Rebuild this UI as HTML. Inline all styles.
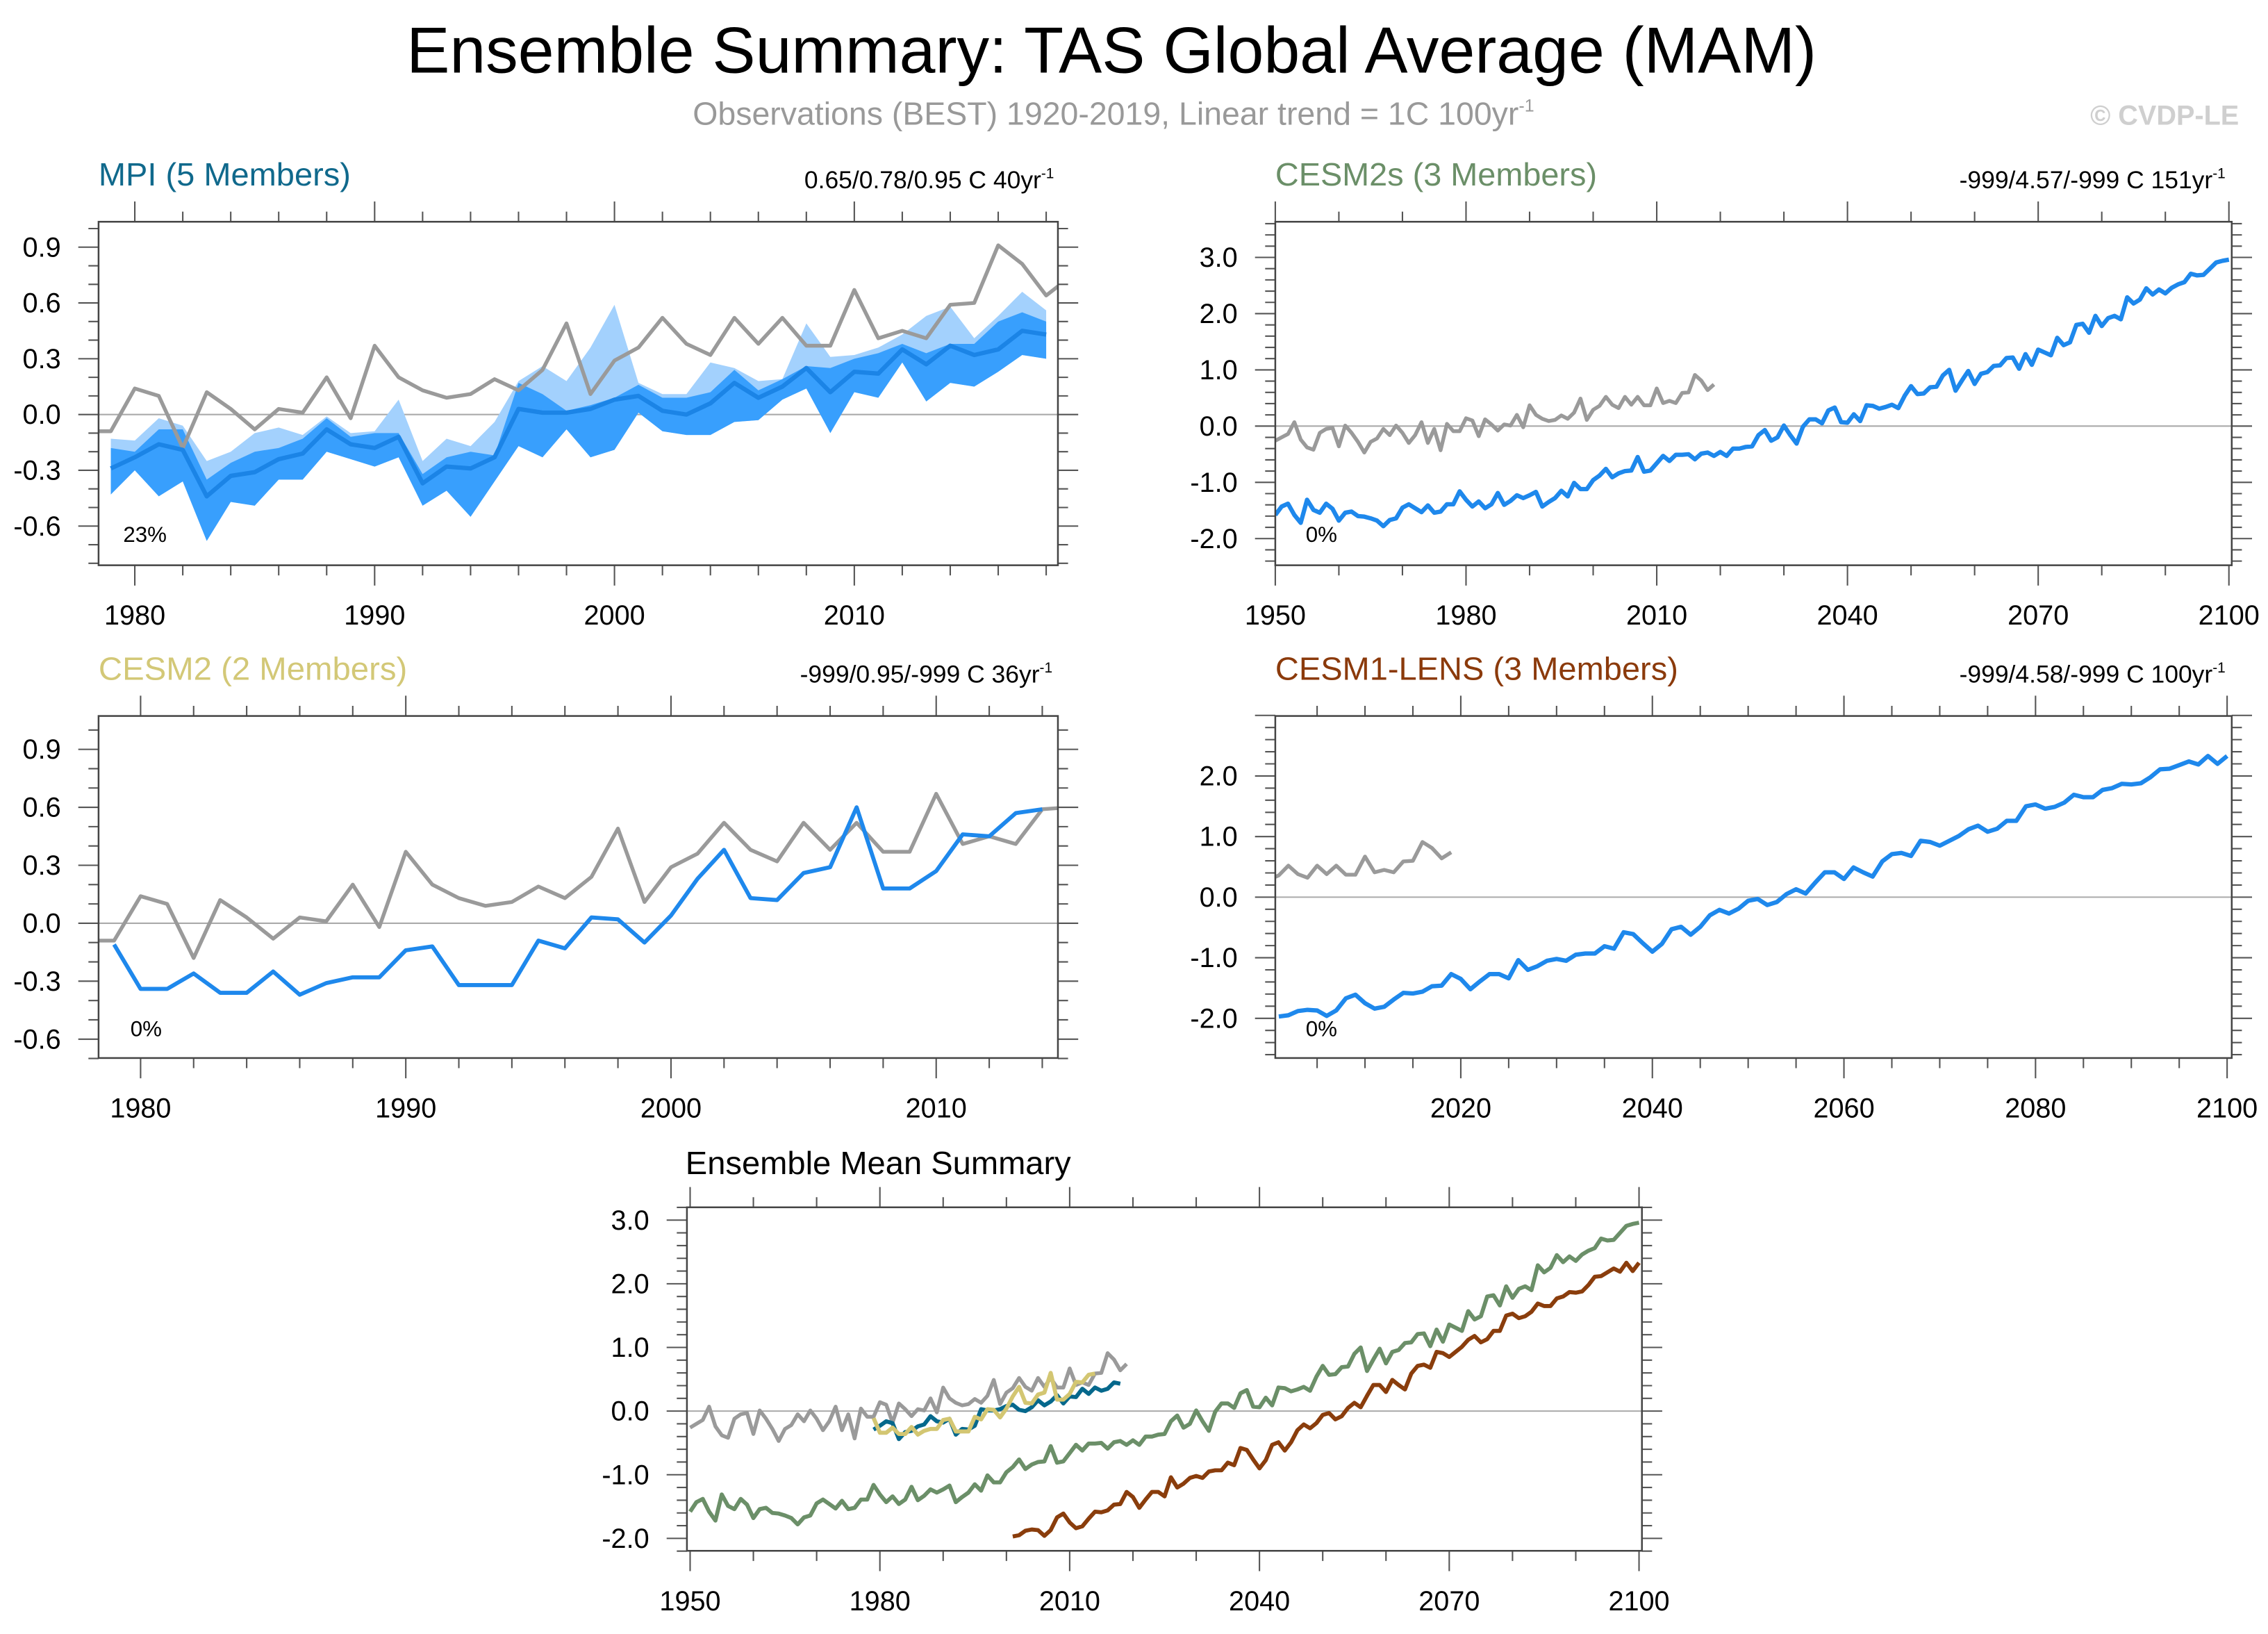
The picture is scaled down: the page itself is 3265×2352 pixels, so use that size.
<!DOCTYPE html>
<html><head><meta charset="utf-8"><title>Ensemble Summary: TAS Global Average (MAM)</title>
<style>
html,body{margin:0;padding:0;background:#fff;}
svg{display:block;font-family:"Liberation Sans",Arial,sans-serif;}
</style></head>
<body>
<svg id="chart" xmlns="http://www.w3.org/2000/svg" width="3265" height="2352" viewBox="0 0 1565 1127.4">
<rect x="0" y="0" width="1565" height="1127.4" fill="#fff"/>
<text x="767" y="50" text-anchor="middle" font-size="45" textLength="973" lengthAdjust="spacingAndGlyphs" fill="#000">Ensemble Summary: TAS Global Average (MAM)</text>
<text x="478" y="86" font-size="22" fill="#999"><tspan textLength="570" lengthAdjust="spacingAndGlyphs">Observations (BEST) 1920-2019, Linear trend = 1C 100yr</tspan><tspan dy="-9" font-size="12">-1</tspan></text>
<text x="1545" y="86" text-anchor="end" font-size="19" font-weight="bold" fill="#cfcfcf">© CVDP-LE</text>

<text x="68" y="128" font-size="22" fill="#10698c" textLength="174" lengthAdjust="spacingAndGlyphs">MPI (5 Members)</text>
<text x="555" y="130" font-size="17" fill="#000">0.65/0.78/0.95 C 40yr<tspan dy="-7" font-size="10">-1</tspan></text>
<text x="880" y="128" font-size="22" fill="#6b8f68" textLength="222" lengthAdjust="spacingAndGlyphs">CESM2s (3 Members)</text>
<text x="1352" y="130" font-size="17" fill="#000">-999/4.57/-999 C 151yr<tspan dy="-7" font-size="10">-1</tspan></text>
<text x="68" y="469" font-size="22" fill="#d3c877" textLength="213" lengthAdjust="spacingAndGlyphs">CESM2 (2 Members)</text>
<text x="552" y="471" font-size="17" fill="#000">-999/0.95/-999 C 36yr<tspan dy="-7" font-size="10">-1</tspan></text>
<text x="880" y="469" font-size="22" fill="#8b3a0b" textLength="278" lengthAdjust="spacingAndGlyphs">CESM1-LENS (3 Members)</text>
<text x="1352" y="471" font-size="17" fill="#000">-999/4.58/-999 C 100yr<tspan dy="-7" font-size="10">-1</tspan></text>
<text x="473" y="810" font-size="22" fill="#000" textLength="266" lengthAdjust="spacingAndGlyphs">Ensemble Mean Summary</text>

<text x="85" y="374" font-size="15">23%</text>
<text x="901" y="374" font-size="15">0%</text>
<text x="90" y="715" font-size="15">0%</text>
<text x="901" y="715" font-size="15">0%</text>
</svg>
<script>
// ---------- data ----------
const obsStart = 1950;
const obsValues = [-0.26,-0.2,-0.14,0.07,-0.24,-0.38,-0.42,-0.12,-0.05,-0.03,-0.36,0.01,-0.12,-0.28,-0.47,-0.28,-0.22,-0.05,-0.16,0.01,-0.12,-0.3,-0.16,0.07,-0.3,-0.05,-0.43,0.04,-0.09,
 -0.09,0.14,0.10,-0.18,0.12,0.03,-0.08,0.03,0.01,0.2,-0.02,0.37,0.2,0.13,0.09,0.11,0.19,0.13,0.24,0.49,0.11,0.29,0.36,0.52,0.38,0.32,0.52,0.38,0.52,0.37,0.37,0.67,0.41,0.45,0.41,0.59,0.6,0.91,0.81,0.64,0.74];

const mpiStart = 1979;
const mpiMean = [-0.29,-0.23,-0.16,-0.19,-0.44,-0.33,-0.31,-0.24,-0.21,-0.08,-0.16,-0.18,-0.12,-0.37,-0.28,-0.29,-0.23,0.03,0.01,0.01,0.03,0.08,0.1,0.02,0.0,0.06,0.17,0.09,0.15,0.25,0.12,0.23,0.22,0.35,0.27,0.37,0.32,0.35,0.45,0.43];
const mpiMin = [-0.43,-0.3,-0.44,-0.36,-0.68,-0.47,-0.49,-0.35,-0.35,-0.2,-0.24,-0.28,-0.23,-0.49,-0.41,-0.55,-0.36,-0.17,-0.23,-0.08,-0.23,-0.19,0.01,-0.09,-0.11,-0.11,-0.04,-0.03,0.08,0.14,-0.1,0.12,0.09,0.28,0.07,0.17,0.15,0.23,0.32,0.3];
const mpiP90 = [-0.18,-0.2,-0.08,-0.08,-0.35,-0.26,-0.2,-0.18,-0.13,-0.02,-0.12,-0.1,-0.1,-0.32,-0.23,-0.2,-0.22,0.17,0.11,0.02,0.05,0.09,0.16,0.09,0.09,0.12,0.24,0.13,0.19,0.26,0.25,0.3,0.33,0.38,0.33,0.38,0.38,0.5,0.55,0.5];
const mpiMax = [-0.13,-0.14,-0.02,-0.06,-0.25,-0.2,-0.1,-0.07,-0.11,-0.01,-0.1,-0.09,0.08,-0.25,-0.13,-0.17,-0.04,0.18,0.26,0.18,0.36,0.59,0.17,0.11,0.11,0.28,0.25,0.18,0.19,0.49,0.31,0.32,0.36,0.43,0.53,0.58,0.41,0.53,0.66,0.56];

const cesm2Start = 1979;
const cesm2Mean = [-0.11,-0.34,-0.34,-0.26,-0.36,-0.36,-0.25,-0.37,-0.31,-0.28,-0.28,-0.14,-0.12,-0.32,-0.32,-0.32,-0.09,-0.13,0.03,0.02,-0.1,0.04,0.23,0.38,0.13,0.12,0.26,0.29,0.6,0.18,0.18,0.27,0.46,0.45,0.57,0.59];

const cesm2sStart = 1950;
const cesm2sMean = [-1.58,-1.43,-1.38,-1.58,-1.72,-1.31,-1.49,-1.54,-1.38,-1.47,-1.68,-1.54,-1.52,-1.6,-1.61,-1.64,-1.68,-1.78,-1.67,-1.64,
 -1.45,-1.39,-1.46,-1.53,-1.41,-1.54,-1.52,-1.39,-1.39,-1.16,-1.31,-1.43,-1.34,-1.46,-1.39,-1.19,-1.4,-1.33,-1.23,-1.28,
 -1.23,-1.17,-1.43,-1.35,-1.28,-1.15,-1.25,-1.01,-1.12,-1.12,-0.96,-0.88,-0.76,-0.91,-0.84,-0.8,-0.79,-0.55,-0.81,-0.79,
 -0.66,-0.53,-0.62,-0.51,-0.51,-0.5,-0.59,-0.49,-0.47,-0.53,-0.46,-0.53,-0.4,-0.4,-0.37,-0.36,-0.16,-0.07,-0.26,-0.2,
 0.01,-0.16,-0.31,-0.01,0.12,0.12,0.05,0.28,0.33,0.07,0.06,0.21,0.09,0.37,0.36,0.31,0.34,0.38,0.32,0.54,
 0.71,0.57,0.58,0.69,0.7,0.9,1.0,0.63,0.81,0.98,0.75,0.93,0.96,1.07,1.08,1.21,1.22,1.02,1.28,1.09,
 1.36,1.31,1.26,1.57,1.44,1.49,1.8,1.82,1.66,1.96,1.78,1.92,1.96,1.9,2.29,2.18,2.25,2.45,2.34,2.43,
 2.36,2.46,2.52,2.56,2.71,2.68,2.69,2.8,2.91,2.94,2.96];

const cesm1Start = 2001;
const cesm1Mean = [-1.97,-1.95,-1.88,-1.86,-1.87,-1.96,-1.87,-1.67,-1.61,-1.75,-1.84,-1.81,-1.69,-1.58,-1.59,-1.56,-1.47,-1.46,-1.27,-1.35,
 -1.52,-1.39,-1.27,-1.27,-1.34,-1.04,-1.2,-1.14,-1.05,-1.02,-1.05,-0.95,-0.93,-0.93,-0.81,-0.85,-0.58,-0.61,-0.76,-0.9,
 -0.77,-0.53,-0.49,-0.62,-0.49,-0.3,-0.21,-0.27,-0.19,-0.06,-0.03,-0.13,-0.08,0.05,0.13,0.06,0.24,0.41,0.41,0.3,
 0.49,0.41,0.34,0.59,0.71,0.73,0.68,0.93,0.91,0.85,0.93,1.01,1.12,1.18,1.08,1.13,1.26,1.26,1.5,1.53,
 1.46,1.49,1.56,1.69,1.65,1.65,1.77,1.8,1.87,1.86,1.88,1.98,2.11,2.12,2.18,2.24,2.19,2.33,2.2,2.33];

const yLabelsMpi = ['-0.6','-0.3','0.0','0.3','0.6','0.9'];
const xLabelsMpi = ['1980','1990','2000','2010'];
const yLabelsCesm2s = ['-2.0','-1.0','0.0','1.0','2.0','3.0'];
const xLabelsCesm2s = ['1950','1980','2010','2040','2070','2100'];
const yLabelsCesm2 = ['-0.6','-0.3','0.0','0.3','0.6','0.9'];
const xLabelsCesm2 = ['1980','1990','2000','2010'];
const yLabelsCesm1 = ['-2.0','-1.0','0.0','1.0','2.0'];
const xLabelsCesm1 = ['2020','2040','2060','2080','2100'];
const yLabelsSummary = ['-2.0','-1.0','0.0','1.0','2.0','3.0'];
const xLabelsSummary = ['1950','1980','2010','2040','2070','2100'];

// ---------- layout ----------
const NS = 'http://www.w3.org/2000/svg';
const svg = document.getElementById('chart');
function mk(tag, parent) { const e = document.createElementNS(NS, tag); parent.appendChild(e); return e; }

const panels = {
 mpi:    {id:'mpi', x0:68, x1:730, y0:153, y1:390, xa:1980, xp:93, xk:16.55, yz:286, yk:128.3, ylab:yLabelsMpi, xlab:xLabelsMpi, yMinor:0.1, xMinor:2, xMin:1978.5, xMax:2018.5, yMinV:-0.8, yMaxV:1.0},
 cesm2s: {id:'cesm2s', x0:880, x1:1540, y0:153, y1:390, xa:1950, xp:880, xk:4.387, yz:294, yk:38.8, ylab:yLabelsCesm2s, xlab:xLabelsCesm2s, yMinor:0.2, xMinor:10, xMin:1950, xMax:2100.5, yMinV:-2.4, yMaxV:3.6},
 cesm2:  {id:'cesm2', x0:68, x1:730, y0:494, y1:730, xa:1980, xp:97, xk:18.3, yz:637, yk:133.3, ylab:yLabelsCesm2, xlab:xLabelsCesm2, yMinor:0.1, xMinor:2, xMin:1978.4, xMax:2014.6, yMinV:-0.8, yMaxV:1.1},
 cesm1:  {id:'cesm1', x0:880, x1:1540, y0:494, y1:730, xa:2020, xp:1008, xk:6.61, yz:619, yk:41.8, ylab:yLabelsCesm1, xlab:xLabelsCesm1, yMinor:0.2, xMinor:5, xMin:2000.6, xMax:2100.5, yMinV:-2.6, yMaxV:3.0},
 sum:    {id:'summary', x0:474, x1:1133, y0:833, y1:1070, xa:1950, xp:476.2, xk:4.3653, yz:973.6, yk:43.92, ylab:yLabelsSummary, xlab:xLabelsSummary, yMinor:0.2, xMinor:10, xMin:1949.5, xMax:2100.4, yMinV:-2.2, yMaxV:3.2}
};
for (const k in panels) { const p = panels[k]; p.xs = yr => p.xp + (yr - p.xa) * p.xk; p.ys = v => p.yz - v * p.yk; }

function setupPanel(p) {
  const g = mk('g', svg);
  
  
  const defs = mk('defs', g);
  const cp = mk('clipPath', defs); cp.setAttribute('id', 'clip-' + p.id);
  const cr = mk('rect', cp);
  cr.setAttribute('x', p.x0); cr.setAttribute('y', p.y0); cr.setAttribute('width', p.x1 - p.x0); cr.setAttribute('height', p.y1 - p.y0);
  const tg = mk('g', g);
  
  
  let d = '';
  const e = 1e-6;
  const yStart = Math.ceil(p.yMinV / p.yMinor - e);
  const yEnd = Math.floor(p.yMaxV / p.yMinor + e);
  const majV = p.ylab.map(Number);
  const majStep = majV[1] - majV[0];
  for (let i = yStart; i <= yEnd; i++) {
    const v = i * p.yMinor; const y = p.ys(v);
    if (y < p.y0 - 0.5 || y > p.y1 + 0.5) continue;
    const isMaj = Math.abs(v / majStep - Math.round(v / majStep)) < 1e-4;
    const L = isMaj ? 14 : 7;
    d += `M${p.x0 - L} ${y}H${p.x0}M${p.x1} ${y}H${p.x1 + L}`;
  }
  const majX = p.xlab.map(Number);
  const xStep = majX[1] - majX[0];
  for (let yr = Math.ceil(p.xMin / p.xMinor) * p.xMinor; yr <= p.xMax; yr += p.xMinor) {
    const x = p.xs(yr);
    if (x < p.x0 - 0.5 || x > p.x1 + 0.5) continue;
    const isMaj = ((yr - majX[0]) % xStep + xStep) % xStep === 0;
    const L = isMaj ? 14 : 7;
    d += `M${x} ${p.y0 - L}V${p.y0}M${x} ${p.y1}V${p.y1 + L}`;
  }
  const tp = mk('path', tg);
  tp.setAttribute('d', d); tp.setAttribute('stroke', '#555'); tp.setAttribute('stroke-width', '1'); tp.setAttribute('fill', 'none');
  p.ylab.forEach(t => {
    const tx = mk('text', g);
    
    
    tx.setAttribute('x', p.x0 - 26); tx.setAttribute('y', p.ys(Number(t)) + 6.5);
    tx.setAttribute('text-anchor', 'end'); tx.setAttribute('font-size', '19');
    tx.textContent = t;
  });
  p.xlab.forEach(t => {
    const tx = mk('text', g);
    
    
    tx.setAttribute('x', p.xs(Number(t))); tx.setAttribute('y', p.y1 + 41);
    tx.setAttribute('text-anchor', 'middle'); tx.setAttribute('font-size', '19');
    tx.textContent = t;
  });
  const z = mk('line', g);
  
  
  z.setAttribute('x1', p.x0); z.setAttribute('x2', p.x1); z.setAttribute('y1', p.ys(0)); z.setAttribute('y2', p.ys(0));
  z.setAttribute('stroke', '#aaa'); z.setAttribute('stroke-width', '1');
  const plot = mk('g', g);
  plot.setAttribute('clip-path', 'url(#clip-' + p.id + ')');
  
  
  p.plot = plot; p.g = g;
  return p;
}

function pts(p, start, arr) { return arr.map((v, i) => p.xs(start + i).toFixed(2) + ',' + p.ys(v).toFixed(2)); }
function drawLine(p, start, arr, color, w, name) {
  const l = mk('polyline', p.plot);
  
  
  l.setAttribute('points', pts(p, start, arr).join(' '));
  l.setAttribute('fill', 'none'); l.setAttribute('stroke', color); l.setAttribute('stroke-width', w);
  l.setAttribute('stroke-linejoin', 'round');
}
function drawBand(p, start, upper, lower, color, name) {
  const a = pts(p, start, upper);
  const b = pts(p, start, lower).reverse();
  const pg = mk('polygon', p.plot);
  
  
  pg.setAttribute('points', a.concat(b).join(' '));
  pg.setAttribute('fill', color);
}
function frame(p) {
  const r = mk('rect', p.g);
  
  
  r.setAttribute('x', p.x0); r.setAttribute('y', p.y0); r.setAttribute('width', p.x1 - p.x0); r.setAttribute('height', p.y1 - p.y0);
  r.setAttribute('fill', 'none'); r.setAttribute('stroke', '#444'); r.setAttribute('stroke-width', '1.2');
}

const BLUE = '#1e88ec';
const GRAY = '#9a9a9a';

let p = setupPanel(panels.mpi);
drawBand(p, mpiStart, mpiMax, mpiMin, '#a3d1fd', 'mpi-minmax-band');
drawBand(p, mpiStart, mpiP90, mpiMin, '#389ffd', 'mpi-spread-band');
drawLine(p, obsStart, obsValues, GRAY, 2.6, 'mpi-observations-line');
drawLine(p, mpiStart, mpiMean, '#1b84e6', 3, 'mpi-ensemble-mean-line');
frame(p);

p = setupPanel(panels.cesm2s);
drawLine(p, obsStart, obsValues, GRAY, 2.6, 'cesm2s-observations-line');
drawLine(p, cesm2sStart, cesm2sMean, BLUE, 3, 'cesm2s-ensemble-mean-line');
frame(p);

p = setupPanel(panels.cesm2);
drawLine(p, obsStart, obsValues, GRAY, 2.6, 'cesm2-observations-line');
drawLine(p, cesm2Start, cesm2Mean, BLUE, 2.8, 'cesm2-ensemble-mean-line');
frame(p);

p = setupPanel(panels.cesm1);
drawLine(p, obsStart, obsValues, GRAY, 2.6, 'cesm1-observations-line');
drawLine(p, cesm1Start, cesm1Mean, BLUE, 3, 'cesm1-ensemble-mean-line');
frame(p);

p = setupPanel(panels.sum);
drawLine(p, cesm2sStart, cesm2sMean, '#6b8f68', 2.8, 'summary-cesm2s-line');
drawLine(p, cesm1Start, cesm1Mean, '#8a3d0c', 2.8, 'summary-cesm1-line');
drawLine(p, obsStart, obsValues, GRAY, 2.6, 'summary-observations-line');
drawLine(p, mpiStart, mpiMean, '#05688c', 2.8, 'summary-mpi-line');
drawLine(p, cesm2Start, cesm2Mean, '#d3c672', 2.8, 'summary-cesm2-line');
frame(p);
</script>
</body></html>
